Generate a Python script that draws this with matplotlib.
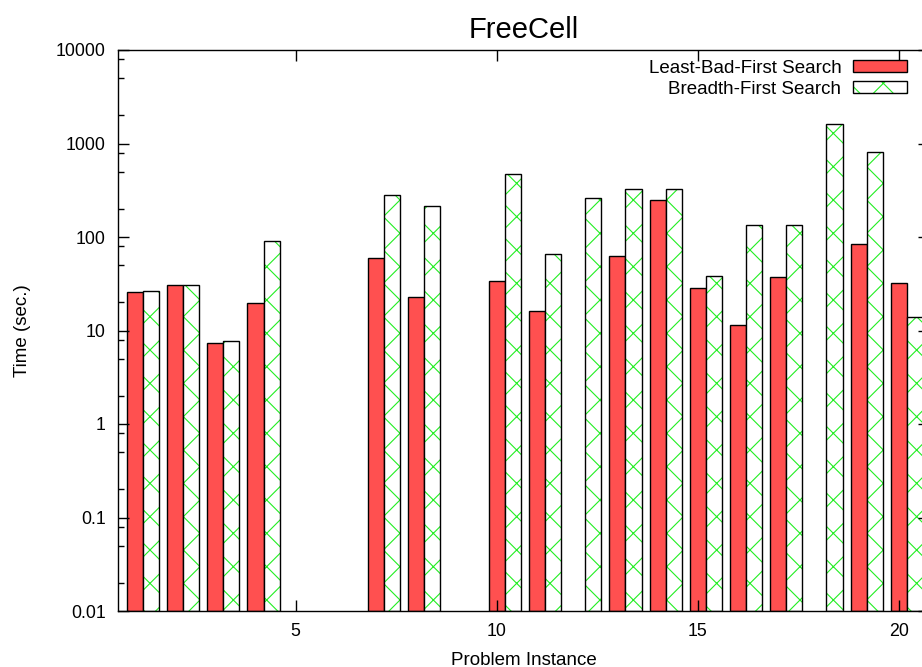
import matplotlib.pyplot as plt
import matplotlib.ticker as ticker
from matplotlib.patches import Patch
from matplotlib.legend_handler import HandlerTuple
import numpy as np

plt.rcParams['font.family'] = ['Liberation Sans', 'DejaVu Sans']
plt.rcParams['hatch.linewidth'] = 0.8

problems = np.arange(1, 21)
nan = np.nan
least_bad = [25.6, 30.5, 7.3, 19.8, nan, nan, 60, 23, nan, 33.6,
             16.3, nan, 63, 250, 28.7, 11.5, 37.3, nan, 83.6, 32.4]
breadth = [26.7, 30.5, 7.8, 90, nan, nan, 281, 212, nan, 472,
           66.3, 259, 324, 324, 38.5, 133, 135, 1600, 805, 14.1]
xticks = [5, 10, 15, 20]
yticks = [0.01, 0.1, 1, 10, 100, 1000, 10000]

red = '#ff5050'
green = '#22ee22'

fig = plt.figure(figsize=(9.22, 6.67), dpi=100)
ax = fig.add_axes([118/922, 56/667, 811/922, 561/667])

w = 0.4
ax.bar(problems, least_bad, width=w, bottom=0.01, color=red, edgecolor='black', linewidth=1.0)
# hatch in green, outline in black drawn on top
ax.bar(problems + w, breadth, width=w, bottom=0.01, color='white', edgecolor=green,
       hatch='x', linewidth=0)
ax.bar(problems + w, breadth, width=w, bottom=0.01, fill=False, edgecolor='black', linewidth=1.0)

ax.set_yscale('log')
ax.set_ylim(0.01, 10000)
ax.set_xlim(0.58, 20.75)
ax.set_xticks(xticks)
ax.xaxis.set_minor_locator(ticker.NullLocator())
ax.yaxis.set_major_locator(ticker.FixedLocator(yticks))
ax.yaxis.set_minor_locator(ticker.LogLocator(base=10, subs=(2, 5, 8), numticks=10))
ax.yaxis.set_minor_formatter(ticker.NullFormatter())
ax.yaxis.set_major_formatter(ticker.FuncFormatter(lambda v, p: f'{v:g}'))
ax.tick_params(which='both', direction='in', top=True, right=True, labelsize=12.8, width=1)
ax.tick_params(which='major', length=8, pad=9)
ax.tick_params(which='minor', length=4)
for s in ax.spines.values():
    s.set_linewidth(1.0)

ax.set_title('FreeCell', fontsize=21, pad=9)
ax.set_xlabel('Problem Instance', fontsize=13.5, labelpad=8)
ax.set_ylabel('Time (sec.)', fontsize=13.5, labelpad=18)

h1 = Patch(facecolor=red, edgecolor='black', linewidth=1.0)
h2a = Patch(facecolor='white', edgecolor=green, hatch='x', linewidth=0)
h2b = Patch(facecolor='none', edgecolor='black', linewidth=1.0)
leg = ax.legend([h1, (h2a, h2b)], ['Least-Bad-First Search', 'Breadth-First Search'],
                handler_map={tuple: HandlerTuple(ndivide=1, pad=0)},
                loc='upper right', bbox_to_anchor=(907/922, 1 - 60/667),
                bbox_transform=fig.transFigure, frameon=False, markerfirst=False,
                fontsize=13.5, handlelength=2.9, handleheight=0.6, handletextpad=0.6,
                labelspacing=0.2, borderpad=0, borderaxespad=0)

fig.savefig('out.png', dpi=100)
